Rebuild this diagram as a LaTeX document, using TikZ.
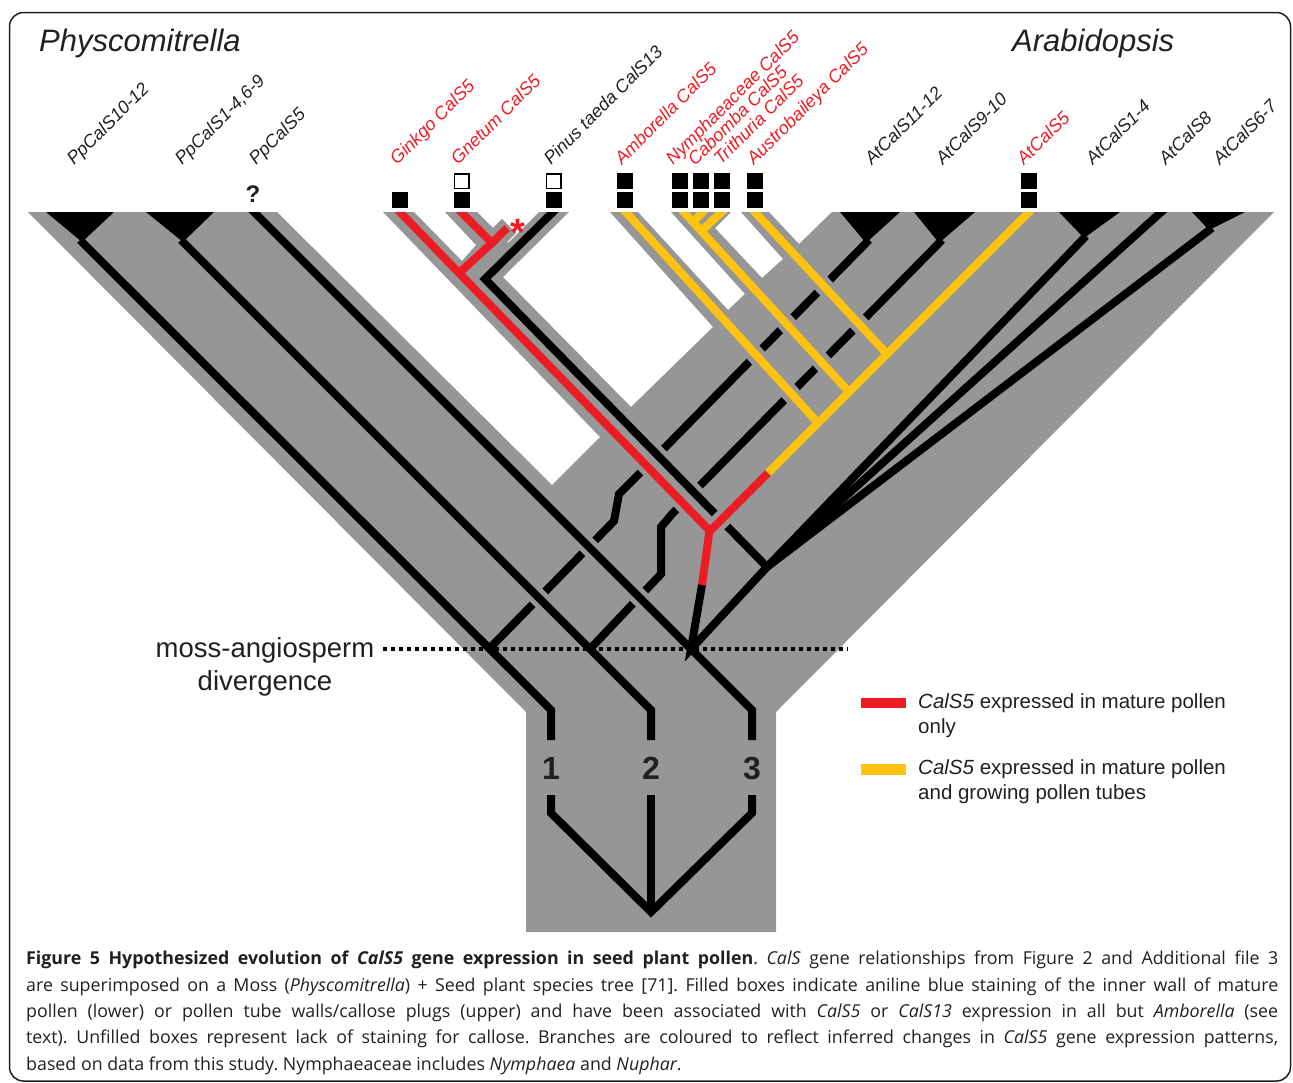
\documentclass[tikz,border=0pt]{standalone}
\usepackage{fontspec}
\setmainfont{Liberation Sans}
\newfontfamily\capfont{Open Sans}
\definecolor{pipe}{RGB}{150,150,150}
\definecolor{cred}{RGB}{237,28,36}
\definecolor{cyel}{RGB}{253,195,14}
\definecolor{ink}{RGB}{35,31,32}

\begin{document}
\frenchspacing
\begin{tikzpicture}[x=1pt,y=-1pt,
  gene/.style={line width=8pt},
  halo/.style={pipe,line width=18pt},
  taxon/.style={rotate=45,anchor=base west,inner sep=0pt,text=ink,font=\fontsize{18}{20}\selectfont\itshape},
  legendtext/.style={anchor=base west,inner sep=0pt,text=ink,font=\fontsize{20.5}{24}\selectfont},
  capline/.style={anchor=base west,inner sep=0pt,text=ink,font=\capfont\fontsize{17.8}{27}\selectfont}]
\useasboundingbox (0,0) rectangle (1293,1082);
\draw[ink,line width=1.5pt,rounded corners=14pt] (9.5,12.5) rectangle (1290.5,1081);

\coordinate (A) at (489,649);
\coordinate (B) at (590,649);
\coordinate (C) at (691,649);
\coordinate (D) at (767,567);
\coordinate (R) at (710,531);
\coordinate (T) at (768,473);
\coordinate (YA) at (818,423);
\coordinate (YN) at (849,392);
\coordinate (YAu) at (887,354);
\coordinate (G) at (492,243);
\coordinate (J) at (459,273);
\coordinate (P) at (485,279);
\coordinate (S) at (702,585);
\coordinate (root) at (651,912);

\fill[pipe] (28,212) -- (277,212) -- (552,485) -- (600,437) -- (383,212) -- (414,212) -- (462,261) -- (476,245) -- (445,212) -- (477,212) -- (508,243) -- (539,212) -- (569,212) -- (503,277) -- (631,407) -- (713,327) -- (610,212) -- (638,212) -- (728,310) -- (745,294) -- (671,212) -- (731,212) -- (715,228) -- (762,278) -- (783,259) -- (741,212) -- (769,212) -- (799,244) -- (832,212) -- (1274,212) -- (776,712) -- (776,932) -- (526,932) -- (526,712) -- cycle;
\draw[pipe,line width=20pt] (G) -- (509,226);

\begin{scope}
\clip (0,212) rectangle (1293,1000);
\draw[gene] (A) -- (614,521) -- (619,494) -- (635,478) -- (869,240);
\draw[gene] (B) -- (661,574) -- (661,527) -- (672,514) -- (942,240);

\draw[halo] (633,430) -- (713,512);
\draw[gene] (556,209) -- (P) -- (D);

\draw[halo] (612,430) -- (R) -- (T);
\draw[halo] (733,330) -- (811,416);
\draw[halo] (765,300) -- (843,385);
\draw[halo] (804,265) -- (879,345);

\draw[gene,cred] (397,209) -- (J) -- (R) -- (T);
\draw[gene,cred] (458,209) -- (G) -- (J);
\draw[gene,cred] (G) -- (507,228);
\draw[gene,cred] (710,527) -- (S);
\draw[gene,cyel] (T) -- (YA) -- (YN) -- (YAu) -- (1032,209);
\draw[gene,cyel] (623,209) -- (YA);
\draw[gene,cyel] (681,209) -- (YN);
\draw[gene,cyel] (706,209) -- (693,222);
\draw[gene,cyel] (725,209) -- (701,231);
\draw[gene,cyel] (752,209) -- (YAu);

\draw[halo] (501,560) -- (571,630);
\draw[halo] (562,520) -- (667,625);
\draw[gene] (551,740) -- (551,710) -- (80,240);
\draw[gene] (651,740) -- (651,710) -- (181,240);
\draw[gene] (752,740) -- (752,710) -- (250,208);
\draw[gene] (551,795) -- (551,813) -- (root) -- (752,813) -- (752,795);
\draw[gene] (651,795) -- (root);

\draw[gene] (S) -- (C) -- (D);
\draw[gene] (D) -- (1086,236);
\draw[gene] (D) -- (1169,205);
\draw[gene] (D) -- (1212,228);
\fill (D) -- (833,499) -- (842,509) -- cycle;

\fill (46,212) -- (114,212) -- (82,242) -- cycle;
\fill (146,212) -- (214,212) -- (183,242) -- cycle;
\fill (840,212) -- (900,212) -- (866,243) -- cycle;
\fill (914,212) -- (975,212) -- (939,243) -- cycle;
\fill (1059,212) -- (1120,212) -- (1084,238) -- cycle;
\fill (1192,212) -- (1245,212) -- (1209,230) -- cycle;
\end{scope}

\draw[line width=4pt,dash pattern=on 4pt off 4pt] (383,649) -- (848,649);

\fill (391.5,192) rectangle (407.5,208);
\foreach \x in {461.5,553.5} {
  \fill (\x-8,192) rectangle (\x+8,208);
  \draw[line width=1.5pt,fill=white] (\x-7.25,173.75) rectangle (\x+7.25,188.25);
}
\foreach \x in {625,680.3,701,722,755.3,1028.5} {
  \fill (\x-8,173) rectangle (\x+8,189);
  \fill (\x-8,192) rectangle (\x+8,208);
}

\node[taxon] (pp1) at (74,166) {PpCalS10-12};
\node[taxon] (pp2) at (182,166) {PpCalS1-4,6-9};
\node[taxon] (pp5) at (256,166) {PpCalS5};
\node[taxon,text=cred] (gin) at (397,166) {Ginkgo CalS5};
\node[taxon,text=cred] (gne) at (458,166) {Gnetum CalS5};
\node[taxon] (pin) at (551,166) {Pinus taeda CalS13};
\node[taxon,text=cred] (amb) at (622,166) {Amborella CalS5};
\node[taxon,text=cred] (nym) at (673,166) {Nymphaeaceae CalS5};
\node[taxon,text=cred] (cab) at (695,167) {Cabomba CalS5};
\node[taxon,text=cred] (tri) at (721,166) {Trithuria CalS5};
\node[taxon,text=cred] (aus) at (754,166) {Austrobaileya CalS5};
\node[taxon] (at11) at (872,166) {AtCalS11-12};
\node[taxon] (at9) at (943,166) {AtCalS9-10};
\node[taxon,text=cred] (at5) at (1024,166) {AtCalS5};
\node[taxon] (at1) at (1093,166) {AtCalS1-4};
\node[taxon] (at8) at (1166,166) {AtCalS8};
\node[taxon] (at6) at (1220,166) {AtCalS6-7};

\node[anchor=base west,inner sep=0pt,text=ink,font=\fontsize{31}{36}\selectfont\itshape] (moss) at (39,51) {Physcomitrella};
\node[anchor=base west,inner sep=0pt,text=ink,font=\fontsize{31}{36}\selectfont\itshape] (arab) at (1012,51) {Arabidopsis};
\node[anchor=base,inner sep=0pt,text=ink,font=\fontsize{24}{28}\selectfont\bfseries] (qm) at (253,202) {?};
\node[anchor=base,inner sep=0pt,text=cred,font=\fontsize{38}{38}\selectfont\bfseries] (loss) at (518,245) {*};

\node[anchor=base,inner sep=0pt,text=ink,font=\fontsize{27.5}{30}\selectfont] (div1) at (265,657) {moss-angiosperm};
\node[anchor=base,inner sep=0pt,text=ink,font=\fontsize{27.5}{30}\selectfont] (div2) at (265,690) {divergence};
\foreach \n/\x in {1/551,2/651,3/752}
  \node[inner sep=0pt,text=ink,font=\fontsize{32}{32}\selectfont\bfseries] (copy\n) at (\x,768) {\n};

\fill[cred] (861,698) rectangle (906,708);
\fill[cyel] (861,764) rectangle (906,775);
\node[legendtext] (leg1) at (918,708) {\textit{CalS5} expressed in mature pollen};
\node[legendtext] at (918,733) {only};
\node[legendtext] (leg2) at (918,774) {\textit{CalS5} expressed in mature pollen};
\node[legendtext] at (918,799) {and growing pollen tubes};

\node[capline] (cap1) at (26,964.5) {\makebox[1252pt][s]{\textbf{Figure 5 Hypothesized evolution of \textit{CalS5} gene expression in seed plant pollen}. \textit{CalS} gene relationships from Figure 2 and Additional file 3}};
\node[capline] at (26,991) {\makebox[1252pt][s]{are superimposed on a Moss (\textit{Physcomitrella}) + Seed plant species tree [71]. Filled boxes indicate aniline blue staining of the inner wall of mature}};
\node[capline] at (26,1017.3) {\makebox[1252pt][s]{pollen (lower) or pollen tube walls/callose plugs (upper) and have been associated with \textit{CalS5} or \textit{CalS13} expression in all but \textit{Amborella} (see}};
\node[capline] at (26,1043.6) {\makebox[1252pt][s]{text). Unfilled boxes represent lack of staining for callose. Branches are coloured to reflect inferred changes in \textit{CalS5} gene expression patterns,}};
\node[capline] at (26,1070) {based on data from this study. Nymphaeaceae includes \textit{Nymphaea} and \textit{Nuphar}.};
\end{tikzpicture}
\end{document}
